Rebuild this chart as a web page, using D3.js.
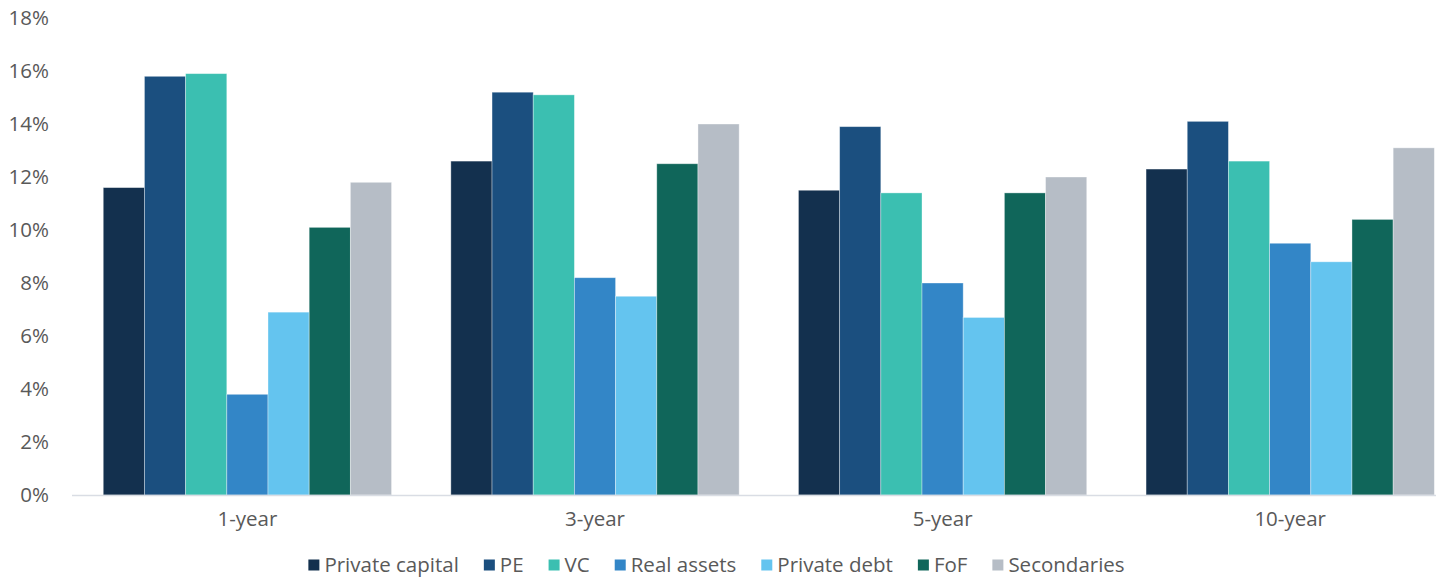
<!DOCTYPE html>
<html>
<head>
<meta charset="utf-8">
<script src="https://cdn.jsdelivr.net/npm/d3@7"></script>
<style>
  html, body { margin: 0; padding: 0; background: #ffffff; }
  svg { display: block; font-family: "Segoe UI", "Open Sans", "Noto Sans", sans-serif; }
</style>
</head>
<body>
<svg id="chart" width="1442" height="580"></svg>
<script>
// Horizons along the x axis
const horizons = ["1-year", "3-year", "5-year", "10-year"];

// Strategy series (one value per horizon, in %)
const seriesNames = ["Private capital", "PE", "VC", "Real assets", "Private debt", "FoF", "Secondaries"];
const privateCapital = [11.6, 12.6, 11.5, 12.3];
const pe             = [15.8, 15.2, 13.9, 14.1];
const vc             = [15.9, 15.1, 11.4, 12.6];
const realAssets     = [3.8, 8.2, 8.0, 9.5];
const privateDebt    = [6.9, 7.5, 6.7, 8.8];
const fof            = [10.1, 12.5, 11.4, 10.4];
const secondaries    = [11.8, 14.0, 12.0, 13.1];

// Y axis ticks
const yTicks = [0, 2, 4, 6, 8, 10, 12, 14, 16, 18];

const seriesValues = [privateCapital, pe, vc, realAssets, privateDebt, fof, secondaries];
const colors = ["#13304e", "#1b4f7f", "#3bbfb1", "#3386c7", "#64c4ef", "#10665a", "#b6bdc6"];

const labelFont = "'Segoe UI', 'Open Sans', 'Noto Sans', sans-serif";
const labelSize = "20.5px";
const labelColor = "#595959";

const svg = d3.select("#chart");

const plotLeft = 72, plotRight = 1436;
const y = d3.scaleLinear().domain([0, 18]).range([495, 18]);

// Group bands: each group holds 7 bars with a gap between groups
const step = 347.6;
const gapRatio = 0.1706;
const x0 = d3.scaleBand()
  .domain(horizons)
  .range([73.6, 73.6 + step * horizons.length])
  .paddingInner(gapRatio)
  .paddingOuter(gapRatio / 2);

const x1 = d3.scaleBand()
  .domain(seriesNames)
  .range([0, x0.bandwidth()])
  .padding(0);

const color = d3.scaleOrdinal().domain(seriesNames).range(colors);

// Y axis labels
const yAxis = d3.axisLeft(y)
  .tickValues(yTicks)
  .tickFormat(d => d + "%")
  .tickSize(0)
  .tickPadding(0);

const yg = svg.append("g")
  .attr("transform", "translate(49,0)")
  .call(yAxis);
yg.select(".domain").remove();
yg.selectAll("text")
  .attr("fill", labelColor)
  .style("font-size", labelSize)
  .style("font-family", labelFont);

// Bars
const rows = horizons.map((h, i) => ({
  horizon: h,
  values: seriesNames.map((s, j) => ({ series: s, value: seriesValues[j][i] }))
}));

const groups = svg.append("g")
  .selectAll("g")
  .data(rows)
  .join("g")
  .attr("transform", d => `translate(${x0(d.horizon)},0)`);

groups.selectAll("rect")
  .data(d => d.values)
  .join("rect")
  .attr("x", d => x1(d.series))
  .attr("width", x1.bandwidth())
  .attr("y", d => y(d.value))
  .attr("height", d => y(0) - y(d.value))
  .attr("fill", d => color(d.series))
  .attr("stroke", "#ffffff")
  .attr("stroke-opacity", 0.45)
  .attr("stroke-width", 0.8);

// Baseline
svg.append("line")
  .attr("x1", plotLeft).attr("x2", plotRight)
  .attr("y1", y(0) + 0.5).attr("y2", y(0) + 0.5)
  .attr("stroke", "#d9dde4")
  .attr("stroke-width", 1.5);

// X axis labels
const xAxis = d3.axisBottom(x0).tickSize(0).tickPadding(0);
const xg = svg.append("g")
  .attr("transform", "translate(0,511)")
  .call(xAxis);
xg.select(".domain").remove();
xg.selectAll("text")
  .attr("fill", labelColor)
  .attr("dy", "0.71em")
  .style("font-size", labelSize)
  .style("font-family", labelFont);

// Legend
const legend = svg.append("g").attr("class", "legend");
const items = legend.selectAll("g")
  .data(seriesNames)
  .join("g");

items.append("rect")
  .attr("width", 11).attr("height", 11)
  .attr("y", -5.5)
  .attr("fill", d => color(d));

items.append("text")
  .attr("x", 16)
  .attr("dy", "0.35em")
  .attr("fill", labelColor)
  .style("font-size", labelSize)
  .text(d => d);

const itemGap = 25;
let cursor = 0;
items.each(function () {
  const g = d3.select(this);
  g.attr("transform", `translate(${cursor},0)`);
  const w = 16 + g.select("text").node().getComputedTextLength();
  cursor += w + itemGap;
});
const legendWidth = cursor - itemGap;
legend.attr("transform", `translate(${716.5 - legendWidth / 2},565)`);
</script>
</body>
</html>
